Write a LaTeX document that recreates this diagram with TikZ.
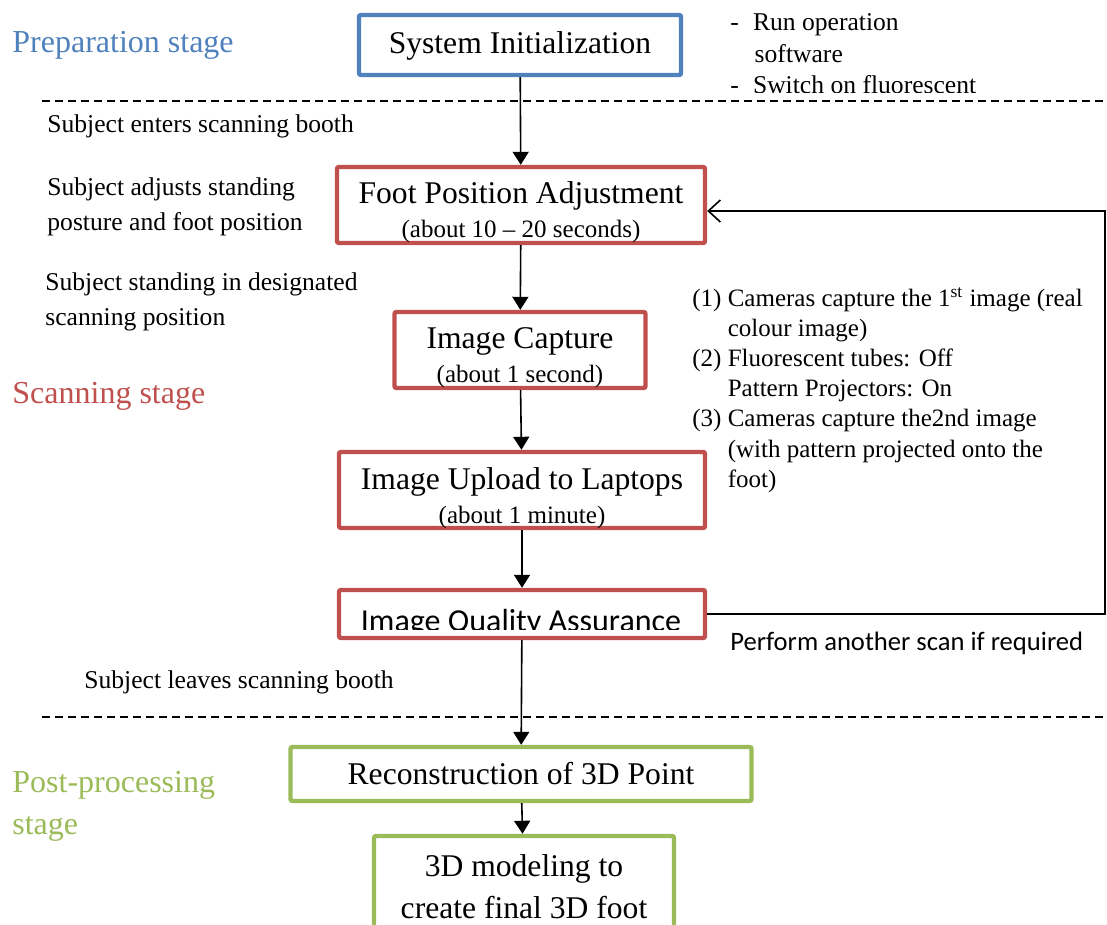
\documentclass[tikz,border=0pt]{standalone}
\usepackage{fontspec}
\setmainfont{Liberation Serif}
\newfontfamily\calibrifont{Carlito}
\usetikzlibrary{arrows.meta}
\definecolor{prepblue}{HTML}{4F81BD}
\definecolor{scanred}{HTML}{C0504D}
\definecolor{postgreen}{HTML}{9BBB59}
\tikzstyle{bluebox}=[draw=prepblue,line width=2.2pt,rounded corners=1pt,inner sep=0pt]
\tikzstyle{redbox}=[draw=scanred,line width=2.2pt,rounded corners=1pt,inner sep=0pt]
\tikzstyle{greenbox}=[draw=postgreen,line width=2.2pt,rounded corners=1pt,inner sep=0pt]
\tikzstyle{boxtext}=[inner sep=0pt,align=center,font=\fontsize{15.8}{17}\selectfont]
\tikzstyle{note}=[anchor=west,align=left,inner sep=0pt,
                  font=\fontsize{12.8}{17.2}\selectfont]
\tikzstyle{stagelabel}=[anchor=west,align=left,inner sep=0pt,
                        font=\fontsize{16}{21}\selectfont]
\tikzstyle{flow}=[-{Triangle[length=6.5pt,width=8pt]},line width=0.8pt]
\tikzstyle{backflow}=[-{Straight Barb[length=6pt,width=11pt]},line width=0.8pt]
\newcommand{\smalltxt}[1]{{\fontsize{12.5}{12}\selectfont #1}}

\begin{document}
\begin{tikzpicture}[x=0.5pt,y=-0.5pt]
    \clip (0,0) rectangle (1107,925);
    % stage boundaries
    \draw[dashed,dash pattern=on 4pt off 2.5pt,line width=0.6pt] (42,101) -- (1107,101);
    \draw[dashed,dash pattern=on 4pt off 2.5pt,line width=0.6pt] (42,717) -- (1107,717);
    % stage names
    \node (prep) at (12,45) [stagelabel,text=prepblue]{Preparation stage};
    \node (scan) at (12,396) [stagelabel,text=scanred]{Scanning stage};
    \node (post) at (12,806) [stagelabel,text=postgreen]{Post-processing\\stage};
    % flow boxes
    \node (sysinit) at (520,45) [bluebox,minimum width=161pt,minimum height=30pt,
        label={[boxtext,yshift=-0.5pt]center:System Initialization}]{};
    \node (footadj) at (521,205) [redbox,minimum width=184pt,minimum height=38pt,
        label={[boxtext,yshift=-3.5pt]center:Foot Position Adjustment\\\smalltxt{(about 10 -- 20 seconds)}}]{};
    \node (imgcap) at (520,350) [redbox,minimum width=125.5pt,minimum height=38pt,
        label={[boxtext,yshift=-4pt]center:Image Capture\\\smalltxt{(about 1 second)}}]{};
    \node (imgup) at (522,490) [redbox,minimum width=183pt,minimum height=38pt,
        label={[boxtext,yshift=-4pt]center:Image Upload to Laptops\\\smalltxt{(about 1 minute)}}]{};
    \node (iqa) at (522,614) [redbox,minimum width=183pt,minimum height=24pt]{};
    \begin{scope}
      \clip (345,596) rectangle (700,629);
      \node (iqatext) at (521,631) [anchor=base,inner sep=0pt,
          font=\calibrifont\fontsize{16}{17}\selectfont]{Image Quality Assurance};
    \end{scope}
    \node (recon) at (521,774) [greenbox,minimum width=230.5pt,minimum height=27pt,
        label={[boxtext]center:Reconstruction of 3D Point}]{};
    \node (model3d) at (524,891) [greenbox,minimum width=150pt,minimum height=55pt,
        label={[boxtext,font=\fontsize{15.8}{21}\selectfont,yshift=2pt]center:3D modeling to\\create final 3D foot}]{};
    % side notes
    \begin{scope}
      \clip (700,0) rectangle (1107,93);
      \node (initnote) at (730,54) [note,font=\fontsize{12.8}{15.8}\selectfont]
          {-\hspace{0.55em}Run operation\\\hspace{0.95em}software\\-\hspace{0.55em}Switch on fluorescent};
    \end{scope}
    \node (enters) at (47,126) [note]{Subject enters scanning booth};
    \node (adjusts) at (47,207) [note]{Subject adjusts standing\\posture and foot position};
    \node (standing) at (45,302) [note]{Subject standing in designated\\scanning position};
    \node (capnote) at (692,390) [note,font=\fontsize{12.5}{15.1}\selectfont]
        {(1) Cameras capture the 1\textsuperscript{st} image (real\\
         \phantom{(1) }colour image)\\
         (2) Fluorescent tubes: Off\\
         \phantom{(2)} Pattern Projectors: On\\
         (3) Cameras capture the2nd image\\
         \phantom{(3) }(with pattern projected onto the\\
         \phantom{(3) }foot)};
    \node (rescan) at (730,643) [note,font=\calibrifont\fontsize{13.3}{16}\selectfont]
        {Perform another scan if required};
    \node (leaves) at (84,682) [note]{Subject leaves scanning booth};
    % connectors
    \coordinate (loopcorner) at (1105,614);
    \draw[flow] (sysinit) -- (footadj);
    \draw[flow] (footadj) -- (imgcap);
    \draw[flow] (imgcap) -- (imgup);
    \draw[flow] (imgup) -- (iqa);
    \draw[flow] (iqa) -- (recon);
    \draw[flow] (recon) -- (model3d);
    \draw[backflow] (iqa.east) -- (loopcorner) |- ([yshift=-3pt]footadj.east);
\end{tikzpicture}
\end{document}
